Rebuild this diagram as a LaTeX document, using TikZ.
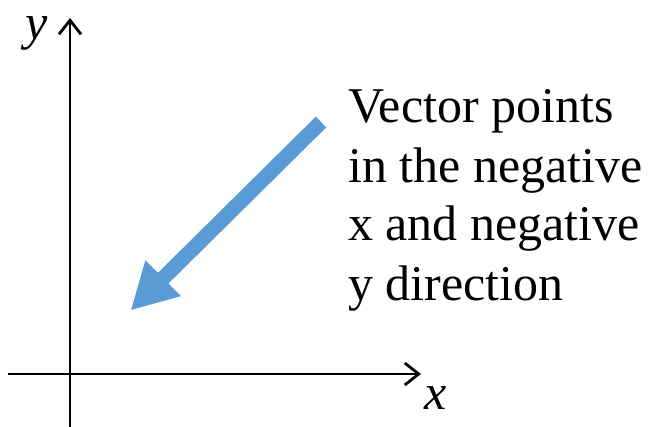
\documentclass[tikz,border=0pt]{standalone}
\usepackage{fontspec}
\setmainfont{Liberation Serif}
\usetikzlibrary{arrows.meta}
\definecolor{vecblue}{HTML}{5B9BD5}

\begin{document}
\begin{tikzpicture}[
  x=1pt, y=-1pt,
  axis/.style={line width=2.8pt, -{Straight Barb[length=14pt, width=22pt]}},
  vec/.style={vecblue, line width=15pt, -{Triangle[length=46pt, width=47pt]}},
  axlabel/.style={font=\fontsize{50}{59}\selectfont\itshape, inner sep=0pt},
  note/.style={font=\fontsize{50}{59}\selectfont, align=left, inner sep=0pt,
               anchor=base west}
]
\useasboundingbox (0,0) rectangle (652,427);

% axes
\coordinate (yb) at (70,427);
\coordinate (yt) at (70,18);
\coordinate (xl) at (8,374);
\coordinate (xr) at (421,374);
\draw[axis] (yb) -- (yt);
\draw[axis] (xl) -- (xr);
\node[axlabel] (ylab) at (37,33) {y};
\node[axlabel] (xlab) at (436,398) {x};

% the vector
\coordinate (vs) at (321,122);
\coordinate (ve) at (130.5,310.5);
\draw[vec] (vs) -- (ve);

\node[note] (txt) at (348,300) {Vector points\\in the negative\\x and negative\\y direction};
\end{tikzpicture}
\end{document}
